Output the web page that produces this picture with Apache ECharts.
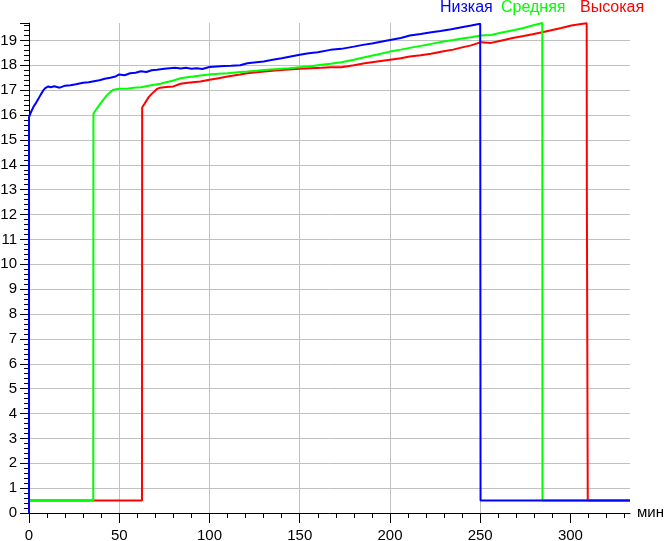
<!DOCTYPE html>
<html>
<head>
<meta charset="utf-8">
<script src="https://cdn.jsdelivr.net/npm/echarts@6/dist/echarts.min.js"></script>
<style>
  html, body { margin: 0; padding: 0; background: #fff; }
  #chart { width: 665px; height: 541px; }
</style>
</head>
<body>
<div id="chart"></div>
<script>
// время, мин / напряжение
var lowT = [0, 0, 1, 2.4, 4, 5.2, 6.5, 7.9, 9, 10.7, 12, 14, 17, 20, 23, 26, 30, 33, 36, 39, 42, 45, 48, 50, 53, 56, 59, 62, 65, 68, 71, 75, 78, 81, 84, 87, 90, 93, 96, 100, 104, 108, 112, 117, 121, 126, 130, 135, 140, 145, 150, 155, 160, 167, 173, 180, 185, 190, 195, 200, 206, 211, 217, 223, 228, 234, 239, 245, 250, 250.2, 333];
var lowV = [0, 15.92, 16.1, 16.32, 16.5, 16.65, 16.82, 16.99, 17.08, 17.15, 17.12, 17.16, 17.1, 17.18, 17.2, 17.24, 17.3, 17.32, 17.36, 17.4, 17.46, 17.5, 17.55, 17.63, 17.6, 17.68, 17.7, 17.76, 17.73, 17.8, 17.82, 17.86, 17.88, 17.9, 17.87, 17.9, 17.86, 17.88, 17.85, 17.93, 17.95, 17.97, 17.98, 18.0, 18.08, 18.12, 18.15, 18.22, 18.28, 18.35, 18.42, 18.48, 18.52, 18.62, 18.66, 18.75, 18.82, 18.88, 18.95, 19.02, 19.1, 19.2, 19.26, 19.33, 19.38, 19.45, 19.52, 19.6, 19.67, 0.5, 0.5];

var midT = [0, 35.6, 35.7, 37.5, 39.4, 41, 43.1, 45, 46.8, 50, 54.3, 58, 62, 67, 72.8, 76, 80, 84, 87.6, 91, 95, 100, 105, 110, 117, 121, 126, 132, 138, 144, 150, 156, 162, 167, 173, 180, 186, 193, 200, 206, 211, 217, 222.8, 229, 235, 240, 245, 250.5, 256, 262, 269, 274, 279, 284.4, 284.5, 333];
var midV = [0.5, 0.5, 16.05, 16.25, 16.45, 16.6, 16.79, 16.92, 17.02, 17.06, 17.06, 17.1, 17.12, 17.19, 17.26, 17.32, 17.39, 17.48, 17.52, 17.55, 17.59, 17.63, 17.66, 17.68, 17.73, 17.75, 17.78, 17.82, 17.85, 17.88, 17.92, 17.96, 18.02, 18.06, 18.12, 18.22, 18.32, 18.43, 18.55, 18.63, 18.7, 18.78, 18.86, 18.95, 19.02, 19.08, 19.13, 19.2, 19.22, 19.32, 19.42, 19.5, 19.6, 19.7, 0.5, 0.5];

var highT = [0, 62.6, 62.7, 64, 66.3, 68, 70.9, 72.8, 76, 80, 84, 88, 95, 100, 105, 110, 117, 121, 126, 132, 138, 144, 150, 156, 162, 167, 173, 180, 186, 193, 200, 206, 211, 217, 222.8, 229, 235, 240, 245, 250.5, 256, 262, 268, 274, 279, 284.4, 290, 295, 300.5, 305, 309, 309.1, 309.5, 309.6, 333];
var highV = [0.5, 0.5, 16.3, 16.45, 16.72, 16.85, 17.05, 17.1, 17.13, 17.15, 17.26, 17.3, 17.35, 17.42, 17.48, 17.55, 17.63, 17.68, 17.72, 17.76, 17.8, 17.83, 17.86, 17.88, 17.9, 17.92, 17.92, 18.0, 18.08, 18.15, 18.22, 18.28, 18.35, 18.4, 18.46, 18.55, 18.63, 18.72, 18.8, 18.93, 18.9, 19.0, 19.1, 19.18, 19.25, 19.33, 19.42, 19.5, 19.6, 19.65, 19.69, 12.7, 12.7, 0.5, 0.5];

var xTicks = [0, 50, 100, 150, 200, 250, 300];
var names = ['Низкая', 'Средняя', 'Высокая'];
var colors = ['#0000ff', '#00ff00', '#ff0000'];

function zip (t, v) {
  var out = [];
  for (var i = 0; i < t.length; i++) out.push([t[i], v[i]]);
  return out;
}

var font = "'Liberation Sans', Arial, sans-serif";
var chart = echarts.init(document.getElementById('chart'), null, { renderer: 'canvas' });

var option = {
  animation: false,
  backgroundColor: '#fff',
  grid: { left: 29, right: 35, top: 23, bottom: 28, outerBoundsMode: 'none' },
  xAxis: {
    type: 'value',
    min: 0,
    max: 333,
    interval: 50,
    name: 'мин',
    nameLocation: 'end',
    nameGap: 7,
    nameTextStyle: { fontFamily: font, fontSize: 15, color: '#000', verticalAlign: 'middle' },
    axisLine: { lineStyle: { color: '#000', width: 1 } },
    axisTick: { length: 10, lineStyle: { color: '#000' }, customValues: xTicks },
    minorTick: { show: true, splitNumber: 5, length: 5, lineStyle: { color: '#000' } },
    axisLabel: { fontFamily: font, fontSize: 15, color: '#000', margin: 15, customValues: xTicks },
    splitLine: { show: true, showMaxLine: false, lineStyle: { color: '#c0c0c0' } }
  },
  yAxis: {
    type: 'value',
    min: 0,
    max: 19.7,
    interval: 1,
    axisLine: { show: true, lineStyle: { color: '#000', width: 1 } },
    axisTick: { show: true, length: 9, lineStyle: { color: '#000' } },
    minorTick: { show: true, splitNumber: 5, length: 5, lineStyle: { color: '#000' } },
    axisLabel: { fontFamily: font, fontSize: 15, color: '#000', margin: 12, showMaxLabel: false },
    splitLine: { show: true, showMaxLine: false, lineStyle: { color: '#c0c0c0' } }
  },
  graphic: [
    { type: 'text', left: 440, top: 0, style: { text: names[0], fill: colors[0], font: '16px ' + font } },
    { type: 'text', left: 501, top: 0, style: { text: names[1], fill: colors[1], font: '16px ' + font } },
    { type: 'text', left: 580, top: 0, style: { text: names[2], fill: colors[2], font: '16px ' + font } }
  ],
  series: [
    { name: names[2], type: 'line', data: zip(highT, highV), showSymbol: false, lineStyle: { color: colors[2], width: 2 } },
    { name: names[1], type: 'line', data: zip(midT, midV), showSymbol: false, lineStyle: { color: colors[1], width: 2 } },
    { name: names[0], type: 'line', data: zip(lowT, lowV), showSymbol: false, lineStyle: { color: colors[0], width: 2 } }
  ]
};

chart.setOption(option);
</script>
</body>
</html>
